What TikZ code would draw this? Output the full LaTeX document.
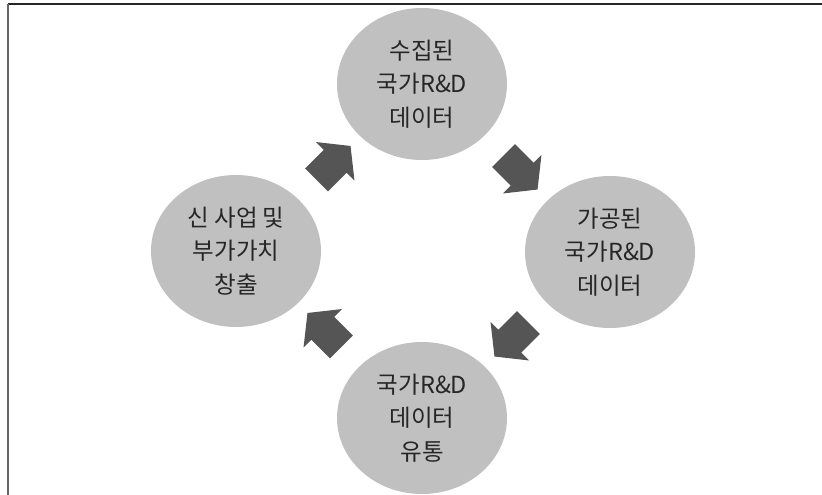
\documentclass[tikz,border=0pt]{standalone}
\usepackage{fontspec}
\setmainfont{Noto Sans CJK KR}
\usetikzlibrary{shapes.geometric,shapes.arrows,calc}
\definecolor{stagegray}{HTML}{C0C0C0}
\definecolor{flowgray}{HTML}{555555}
\definecolor{textgray}{HTML}{262626}
\tikzset{
  stage/.style={ellipse, fill=stagegray, minimum width=170pt, minimum height=152pt,
    inner sep=0pt, align=center, text=textgray, font=\fontsize{23.5pt}{33.5pt}\selectfont},
  flow/.style={single arrow, fill=flowgray, inner xsep=0pt, inner ysep=16pt,
    text height=0pt, text depth=0pt, minimum height=48pt, minimum width=0pt,
    single arrow head extend=11pt, single arrow tip angle=103, single arrow head indent=0pt}
}
\begin{document}
\begin{tikzpicture}[x=1pt,y=-1pt]
    \useasboundingbox (0,0) rectangle (822,495);
    \draw[line width=1.5pt, black!85] (8,4) -- (822,4);
    \draw[line width=2pt, black!60] (8,4) -- (8,495);

    \node[stage] (collected) at (422,84) {수집된\\국가R\&D\\데이터};
    \node[stage] (processed) at (610,252) {가공된\\국가R\&D\\데이터};
    \node[stage] (distribution) at (422,418) {국가R\&D\\데이터\\유통};
    \node[stage] (newbiz) at (236,251) {신 사업 및\\부가가치\\창출};

    \node[flow, rotate=45] (toCollected) at ($(newbiz)!.5!(collected)$) {};
    \node[flow, rotate=-45] (toProcessed) at ($(collected)!.5!(processed)$) {};
    \node[flow, rotate=-135] (toDistribution) at ($(processed)!.5!(distribution)$) {};
    \node[flow, rotate=135] (toNewbiz) at ($(distribution)!.5!(newbiz)$) {};
\end{tikzpicture}
\end{document}
